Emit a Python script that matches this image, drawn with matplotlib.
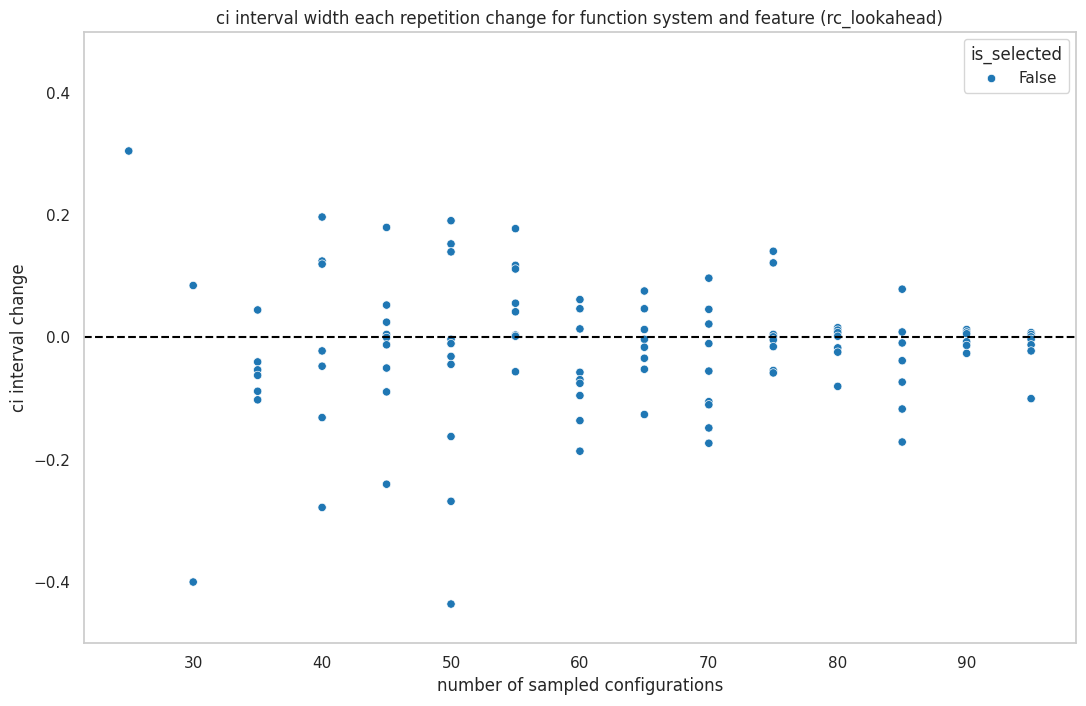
import numpy as np
import pandas as pd
import seaborn as sns
from matplotlib import pyplot as plt

# values, grouped by sample size
col_25 = [0.305]
col_30 = [0.085, -0.400]
col_35 = [0.045, -0.040, -0.053, -0.062, -0.088, -0.102]
col_40 = [0.197, 0.125, 0.120, -0.022, -0.047, -0.131, -0.278]
col_45 = [0.180, 0.053, 0.025, 0.005, 0.000, -0.012, -0.050, -0.089, -0.240]
col_50 = [0.191, 0.153, 0.140, -0.003, -0.010, -0.031, -0.044, -0.162, -0.268, -0.436]
col_55 = [0.178, 0.118, 0.112, 0.056, 0.042, 0.004, 0.002, -0.056]
col_60 = [0.062, 0.047, 0.014, -0.057, -0.069, -0.075, -0.095, -0.136, -0.186]
col_65 = [0.076, 0.047, 0.013, -0.003, -0.016, -0.034, -0.052, -0.126]
col_70 = [0.097, 0.046, 0.022, -0.010, -0.055, -0.105, -0.110, -0.148, -0.173]
col_75 = [0.141, 0.122, 0.005, 0.001, -0.004, -0.015, -0.054, -0.058]
col_80 = [0.016, 0.012, 0.008, 0.002, -0.017, -0.024, -0.080]
col_85 = [0.079, 0.009, -0.009, -0.038, -0.073, -0.117, -0.171]
col_90 = [0.013, 0.009, 0.006, -0.007, -0.013, -0.026]
col_95 = [0.008, 0.005, 0.001, -0.003, -0.012, -0.022, -0.100]

sizes = [25, 30, 35, 40, 45, 50, 55, 60, 65, 70, 75, 80, 85, 90, 95]
cols = [col_25, col_30, col_35, col_40, col_45, col_50, col_55, col_60,
        col_65, col_70, col_75, col_80, col_85, col_90, col_95]

rows = []
for s, c in zip(sizes, cols):
    for v in c:
        rows.append((s, v, False))
df = pd.DataFrame(rows, columns=['n', 'change', 'is_selected'])

sns.set_theme(style='whitegrid')
fig, ax = plt.subplots(figsize=(10.86, 7.06), dpi=100)
sns.scatterplot(data=df, x='n', y='change', hue='is_selected',
                palette=['#1f77b4'], ax=ax)
ax.axhline(0, color='black', linestyle='--')
ax.grid(False)
ax.set_ylim(-0.5, 0.5)
ax.set_xlabel('number of sampled configurations')
ax.set_ylabel('ci interval change')
ax.set_title('ci interval width each repetition change for function system and feature (rc_lookahead)')
plt.subplots_adjust(left=0.077, right=0.991, top=0.955, bottom=0.089)
plt.savefig('out.png')
